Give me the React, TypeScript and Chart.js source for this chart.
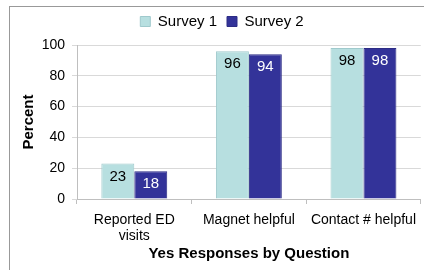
import React, { useEffect, useRef } from 'react';
import { Chart, registerables, layouts } from 'chart.js';

Chart.register(...registerables);

const categories: (string | string[])[] = [['Reported ED', 'visits'], 'Magnet helpful', 'Contact # helpful'];
const seriesNames = ['Survey 1', 'Survey 2'];
const survey1 = [23, 96, 98];
const survey2 = [18, 94, 98];
const yMin = 0;
const yMax = 100;
const yStep = 20;
const xTitle = 'Yes Responses by Question';
const yTitle = 'Percent';

const FONT = "'Liberation Sans', Arial, sans-serif";
const colors = ['#b7dfe0', '#333399'];
const borders = ['#9fc9cc', '#2c2c85'];
const labelColors = ['#000000', '#ffffff'];

const dataLabels = {
  id: 'dataLabels',
  afterDatasetsDraw(chart: any) {
    const ctx = chart.ctx;
    ctx.save();
    ctx.font = `15px ${FONT}`;
    ctx.textAlign = 'center';
    ctx.textBaseline = 'middle';
    chart.data.datasets.forEach((ds: any, di: number) => {
      const meta = chart.getDatasetMeta(di);
      meta.data.forEach((el: any, i: number) => {
        ctx.fillStyle = labelColors[di];
        ctx.fillText(String(ds.data[i]), el.x, el.y + 13);
      });
    });
    ctx.restore();
  },
};

// empty layout box between the legend and the plot area
const legendGap = {
  id: 'legendGap',
  beforeInit(chart: any) {
    const box: any = {
      position: 'top',
      weight: 500,
      fullSize: true,
      options: {},
      left: 0, top: 0, right: 0, bottom: 0, width: 0, height: 0,
      isHorizontal() { return true; },
      update(maxWidth: number) { this.width = maxWidth; this.height = 6; },
      draw() {},
    };
    layouts.addBox(chart, box);
  },
};

export default function App() {
  const ref = useRef<HTMLCanvasElement | null>(null);
  useEffect(() => {
    if (!ref.current) return;
    const chart = new Chart(ref.current, {
      type: 'bar',
      data: {
        labels: categories,
        datasets: [survey1, survey2].map((d, i) => ({
          label: seriesNames[i],
          data: d,
          backgroundColor: colors[i],
          borderColor: borders[i],
          borderWidth: 1,
          categoryPercentage: 0.575,
          barPercentage: 1.0,
        })),
      },
      options: {
        responsive: false,
        animation: false,
        layout: { padding: { left: 20, right: 0, top: 4, bottom: 0 } },
        plugins: {
          legend: {
            position: 'top',
            labels: {
              boxWidth: 10,
              boxHeight: 10,
              padding: 10,
              color: '#000',
              font: { family: FONT, size: 15 },
            },
          },
          tooltip: { enabled: false },
          title: { display: false },
        },
        scales: {
          x: {
            afterFit: (s: any) => { s.height = 71; },
            grid: { display: true, drawOnChartArea: false, drawTicks: true, tickLength: 5, color: '#bfbfbf', offset: true },
            border: { color: '#bfbfbf' },
            ticks: { color: '#000', font: { family: FONT, size: 14, lineHeight: 1.15 }, padding: 8, maxRotation: 0, autoSkip: false },
            title: { display: true, text: xTitle, color: '#000', font: { family: FONT, size: 15, weight: 'bold' }, padding: { top: 0, bottom: 7 } },
          },
          y: {
            min: yMin,
            max: yMax,
            afterFit: (s: any) => { s.width = 57; },
            grid: { color: '#d9d9d9', tickLength: 5 },
            border: { color: '#bfbfbf' },
            ticks: { stepSize: yStep, color: '#000', font: { family: FONT, size: 14 }, padding: 7 },
            title: { display: true, text: yTitle, color: '#000', font: { family: FONT, size: 15, weight: 'bold' }, padding: { top: 0, bottom: 0 } },
          },
        },
      },
      plugins: [dataLabels, legendGap],
    } as any);
    return () => chart.destroy();
  }, []);

  return (
    <div style={{ position: 'fixed', left: 0, top: 0, width: 424, height: 270, overflow: 'hidden', background: '#fff' }}>
      <canvas ref={ref} width={424} height={270} style={{ position: 'absolute', left: 0, top: 0, width: 424, height: 270 }} />
      <div style={{ position: 'absolute', left: 9, top: 6, right: -2, bottom: -2, borderLeft: '1px solid #999', borderTop: '1px solid #999', pointerEvents: 'none' }} />
    </div>
  );
}
